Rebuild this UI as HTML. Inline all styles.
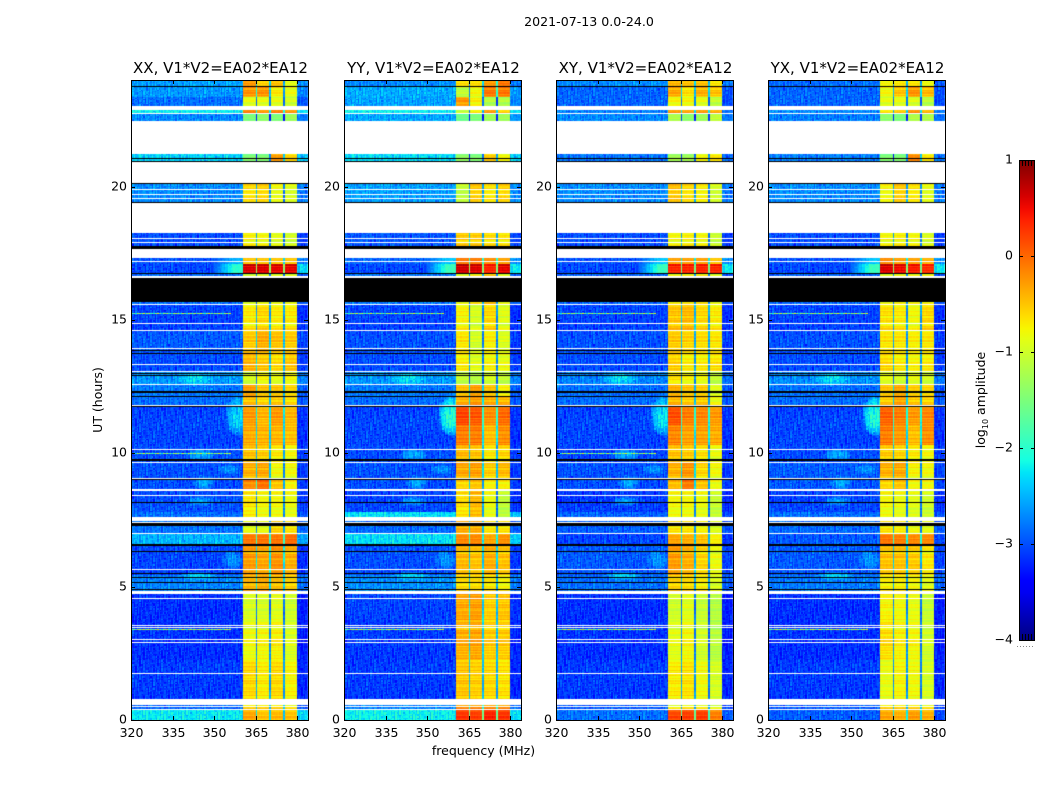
<!DOCTYPE html>
<html lang="en">
<head>
<meta charset="utf-8">
<title>2021-07-13 spectrogram</title>
<style>
html,body{margin:0;padding:0;background:#fff;}
#figure{position:relative;width:1050px;height:800px;overflow:hidden;background:#fff;}
canvas{position:absolute;top:80px;display:block;}
svg{position:absolute;left:0;top:0;}
text{font-family:"DejaVu Sans","Liberation Sans",sans-serif;fill:#000;}
</style>
</head>
<body>
<div id="figure">
<canvas id="heat-XX" width="178" height="640" style="left:131px"></canvas>
<canvas id="heat-YY" width="177" height="640" style="left:344px"></canvas>
<canvas id="heat-XY" width="178" height="640" style="left:556px"></canvas>
<canvas id="heat-YX" width="178" height="640" style="left:768px"></canvas>
<svg id="overlay" width="1050" height="800" viewBox="0 0 1050 800">
<defs>
<linearGradient id="jet-gradient" x1="0" y1="1" x2="0" y2="0"></linearGradient>
</defs>
<text x="589" y="26" text-anchor="middle" font-size="12.6">2021-07-13 0.0-24.0</text>
<text x="483.5" y="755" text-anchor="middle" font-size="12.5">frequency (MHz)</text>
<text transform="translate(102,400) rotate(-90)" text-anchor="middle" font-size="12.5">UT (hours)</text>
<text transform="translate(985,400) rotate(-90)" text-anchor="middle" font-size="12.5">log<tspan font-size="8" dy="3">10</tspan><tspan dy="-3"> amplitude</tspan></text>
</svg>
</div>
<script>
// ---------- data ----------
const panelNames = ['XX', 'YY', 'XY', 'YX'];
const freqTicks = [320, 335, 350, 365, 380];
const hourTicks = [0, 5, 10, 15, 20];
const cbarTicks = [1, 0, -1, -2, -3, -4];

// time blocks, top of plot downward (UT hours)
const blockEdges = [24, 23.74, 23.36, 23.03, 22.76, 21.23, 20.14, 18.3, 17.36, 17.1, 16.76, 15.56, 14.63, 13.8, 13.05, 12.56, 12.11, 11.78, 11.06, 10.31, 9.68, 9, 8.63, 7.8, 7.48, 6.98, 6.53, 5.44, 4.8, 3.75, 2.25, 0.79, 0.41, 0];

// log10 amplitude outside the receiver band, one per block
const offXX = [-2.6,-2.65,-2.85,-2.2,-2.7,-2.35,-2.7,-3,-3,-3.05,-2.85,-3.05,-2.95,-3,-2.65,-2.8,-2.85,-3.05,-3.05,-3,-3,-3,-3,-2.85,-2.8,-2.5,-3.05,-2.75,-3.15,-3.15,-3.1,-2.9,-2.25];
const offYY = [-2.7,-2.55,-2.6,-2.2,-2.55,-2.3,-2.6,-2.95,-2.9,-3.05,-2.8,-3.05,-3,-3,-2.65,-2.8,-2.85,-3.05,-3.05,-3,-3,-3,-3.05,-2.3,-2.85,-2.3,-3,-2.7,-3.05,-3.1,-3.1,-2.75,-2.2];
const offXY = [-2.7,-2.9,-2.9,-2.75,-2.7,-2.8,-2.7,-3,-3,-3.05,-2.9,-3.05,-3,-3,-2.75,-2.85,-2.85,-3.05,-3.05,-3.05,-3,-3,-3.1,-2.9,-2.9,-3.05,-2.95,-2.85,-3.15,-3.15,-3.1,-2.95,-2.85];
const offYX = [-2.85,-2.9,-2.9,-2.7,-2.75,-2.75,-2.7,-3,-3,-3.05,-2.9,-3.05,-3,-3,-2.7,-2.85,-2.85,-3.05,-3.05,-3,-2.95,-2.95,-3.05,-2.85,-2.85,-2.95,-2.95,-2.8,-3.15,-3.15,-3.1,-2.95,-2.95];

// log10 amplitude just below the band edge, one per block (-4 = no shoulder)
const shoulderXX = [-4,-4,-4,-4,-4,-4,-4,-4,-2.5,-2.0,-4,-4,-4,-4,-4,-4,-4,-4,-4,-4,-4,-4,-4,-4,-4,-4,-4,-4,-4,-4,-4,-4,-4];
const shoulderYY = [-4,-4,-4,-4,-4,-4,-4,-4,-2.4,-1.9,-4,-4,-4,-4,-4,-4,-4,-4,-4,-4,-4,-4,-4,-4,-4,-4,-4,-4,-4,-4,-4,-4,-4];
const shoulderXY = [-4,-4,-4,-4,-4,-4,-4,-4,-2.4,-1.9,-4,-4,-4,-4,-4,-4,-4,-4,-4,-4,-4,-4,-4,-4,-4,-4,-4,-4,-4,-4,-4,-4,-4];
const shoulderYX = [-4,-4,-4,-4,-4,-4,-4,-4,-2.4,-1.9,-4,-4,-4,-4,-4,-4,-4,-4,-4,-4,-4,-4,-4,-4,-4,-4,-4,-4,-4,-4,-4,-4,-4];

// log10 amplitude of the four sub-bands, one row per block
const bandXX = [[-.3,-.6,-.5,-.9],[-.25,-.25,-.7,-.85],[-.9,-.9,-.9,-1],[-.15,-.3,-.15,-.3],[-1.5,-1.4,-1.5,-1.3],[-1.5,-1.5,-.3,-.6],[-.65,-.6,-.85,-.95],[-.75,-.8,-.9,-1],[-.5,-.5,-.5,-.5],[.6,.6,.55,.55],[-1,-.9,-.9,-.9],[-.7,-.6,-.7,-.7],[-.55,-.4,-.5,-.55],[-.4,-.5,-.6,-.5],[-1,-.8,-.9,-.8],[-.3,-.5,-.5,-.6],[-.45,-.55,-.5,-.6],[-.3,-.45,-.3,-.45],[-.35,-.4,-.4,-.45],[-.5,-.55,-.7,-.8],[-.4,-.35,-.8,-.8],[-.2,-.05,-.5,-.75],[-.7,-.8,-.8,-.85],[-.7,-.8,-.8,-.85],[-.9,-.9,-.6,-.7],[-.1,-.1,-.1,-.05],[-.3,-.35,-.25,-.4],[-.4,-.35,-.45,-.55],[-.95,-.95,-.9,-1],[-.85,-.8,-.75,-.95],[-.6,-.7,-.6,-.75],[-.6,-.6,-.6,-.7],[-.35,-.5,-.45,-.5]];
const bandYY = [[-.65,-.65,-.3,-.1],[-1.1,-.8,-.1,-.1],[-.3,-.75,-1.2,-1.2],[-1.1,-.75,-.3,-.6],[-1.6,-1.5,-1.3,-1.3],[-1.4,-1.5,-.55,-.8],[-1.1,-.55,-.7,-.6],[-.55,-.55,-.65,-.7],[-.1,-.1,-.2,-.3],[.65,.6,.35,.55],[-.9,-.7,-.5,-.9],[-.75,-.95,-.6,-.9],[-.7,-1,-.75,-.95],[-.7,-.9,-.75,-.85],[-1.1,-1.2,-1,-1.1],[-.5,-.3,-.5,-.75],[-.35,-.25,-.35,-.4],[.15,.05,-.25,-.05],[-.1,-.1,-.45,-.2],[-.45,-.5,-.7,-.6],[-.35,-.3,-.55,-.45],[-.6,-.5,-.75,-.75],[-.65,-.45,-.85,-1.1],[-.65,-.45,-.85,-1.1],[-.4,-.4,-.7,-.7],[-.2,-.2,-.35,-.25],[-.45,-.5,-.4,-.5],[-.6,-.6,-.65,-.75],[-.35,-.3,-.55,-.5],[-.4,-.35,-.55,-.55],[-.5,-.55,-.6,-.65],[-.2,-.2,-.2,-.2],[.25,.2,.35,.25]];
const bandXY = [[-.45,-.5,-.5,-.7],[-.35,-.65,-.4,-.5],[-.8,-.8,-.9,-1.1],[-.3,-.35,-.3,-.4],[-1.2,-1.4,-1.3,-1.1],[-1.3,-1.3,-.8,-.7],[-.5,-.65,-.75,-1],[-.8,-.75,-.8,-1.05],[-.3,-.3,-.3,-.5],[.35,.35,.35,.35],[-.8,-.75,-.7,-.9],[-.5,-.45,-.6,-.7],[-.55,-.6,-.65,-.7],[-.55,-.7,-.7,-.65],[-.7,-.8,-.85,-1.1],[-.4,-.5,-.55,-.9],[-.4,-.5,-.5,-.8],[.1,-.15,-.2,-.3],[-.15,-.3,-.3,-.35],[-.5,-.55,-.65,-.85],[-.4,-.25,-.6,-.8],[-.45,-.1,-.5,-.85],[-.8,-.8,-.85,-1.05],[-.8,-.8,-.85,-1.05],[-.7,-.7,-.8,-.95],[-.35,-.4,-.5,-.75],[-.3,-.4,-.6,-.85],[-.55,-.6,-.7,-.9],[-1,-.9,-1.05,-1.15],[-.9,-.8,-1,-1.15],[-.7,-.65,-.8,-.95],[-.8,-.7,-.75,-.9],[.15,.2,.2,-.15]];
const bandYX = [[-.8,-.7,-.7,-.85],[-.8,-.5,-.25,-.45],[-.9,-.9,-.95,-1.15],[-.7,-.55,-.25,-.45],[-1.4,-1.5,-1.2,-1.2],[-1.5,-1.5,-.2,-.7],[-.8,-.55,-.7,-.9],[-.8,-.75,-.8,-.95],[-.2,-.3,-.3,-.4],[.6,.5,.4,.3],[-.9,-.8,-.8,-.8],[-.65,-.7,-.8,-.6],[-.7,-.7,-.75,-.7],[-.6,-.7,-.75,-.7],[-.9,-1,-.9,-1],[-.5,-.35,-.55,-.6],[-.5,-.3,-.5,-.55],[0,-.15,-.3,-.2],[-.1,-.25,-.45,-.2],[-.55,-.6,-.7,-.8],[-.4,-.35,-.75,-.8],[-.6,-.5,-.8,-.8],[-.8,-.85,-.9,-1],[-.8,-.85,-.9,-1],[-.7,-.75,-.85,-.9],[-.1,-.15,-.2,-.2],[-.5,-.5,-.55,-.7],[-.7,-.7,-.75,-.85],[-.75,-.8,-.85,-1.05],[-.65,-.75,-.8,-1],[-.85,-.75,-.8,-.95],[-.6,-.6,-.6,-.7],[-.35,-.4,-.3,-.4]];

// flagged time ranges [from hour, to hour]: white = no data, black = zero amplitude
const whiteFlags = [[23.03,22.89],[22.76,22.73],[22.48,22.44],[22.43,21.23],[20.93,20.14],[19.91,19.88],[19.74,19.71],[19.58,19.54],[19.39,18.28],[18.08,18.04],[17.93,17.87],[17.66,17.34],[17.22,17.18],[16.66,16.59],[15.6,15.55],[14.9,14.85],[14.63,14.59],[13.95,13.91],[13.35,13.31],[13.09,13.05],[12.6,12.56],[11.81,11.78],[10.16,10.13],[9.68,9.64],[9.08,9.04],[8.66,8.59],[8.44,8.4],[7.63,7.48],[7.44,7.41],[7.01,6.98],[5.66,5.63],[4.84,4.73],[4.58,4.54],[3.56,3.53],[3.49,3.45],[3.04,3],[2.93,2.89],[1.76,1.73],[.79,.56],[.53,.49],[.41,.38]];
const blackFlags = [[23.78,23.74],[21.08,21.04],[20.96,20.93],[20.14,20.1],[19.43,19.39],[17.78,17.66],[16.78,16.74],[16.59,15.69],[13.86,13.82],[13.78,13.74],[13.01,12.98],[12.94,12.9],[12.32,12.28],[12.15,12.11],[11.76,11.72],[9.77,9.73],[9.04,9],[8.18,8.14],[7.37,7.26],[6.6,6.53],[6.34,6.3],[5.51,5.48],[5.36,5.33],[5.19,5.16],[4.91,4.88]];

// narrow-band interference rows
const rfiHours = [15.26, 10.01, 3.41];
const rfiPanels = [['XX','YY','XY','YX'], ['XX','XY'], ['XX','YY','XY','YX']];
const rfiLevel = [-1.5, -1.5, -1.3];

// soft brighter patches in the off-band noise (centre MHz, centre hour, half sizes, peak level)
const patchMHz = [343, 345, 346, 355, 345, 344, 356.5];
const patchHour = [12.8, 9.95, 8.9, 9.4, 8.2, 5.4, 6.0];
const patchHalfMHz = [7, 5, 4, 4, 5, 7, 4];
const patchHalfHour = [0.28, 0.25, 0.3, 0.2, 0.2, 0.16, 0.4];
const patchLevel = [-2.3, -2.5, -2.5, -2.6, -2.6, -2.3, -2.6];

// soft glow beside the band near 11 UT, peak level per panel
const glowMHz = 358.5, glowHour = 11.4, glowHalfMHz = 4.5, glowHalfHour = 0.75;
const glowLevel = {XX:-2.35, YY:-2.0, XY:-2.25, YX:-2.05};

// fine-grain texture: hand-typed offsets, not measured cell by cell
const grainA = [.6,-.4,.1,-.8,.9,-.2,.4,-.6,.2,.7,-.9,.3,-.1,.8,-.5,.0,-.7,.5,-.3,.9,-.6,.2,-.9,.4,.1,-.2,.7,-.5,.3,-.8,.6,-.1,.5,-.4,.8,-.7,.0];
const grainB = [-.3,.7,-.9,.2,.5,-.6,.1,.8,-.4,-.1,.6,-.8,.3,.9,-.5,.0,-.7,.4,.2,-.2,.7,-.6,.9,-.3,.1,-.9,.5,-.4,.6,.3,-.7];
const streak = [.2,-.5,.7,.1,-.3,.9,-.8,.4,-.1,.6,-.6,.3,-.9,.5,0,.8,-.4,-.7,.2];

// ---------- axes ----------
const panelLeft = {XX:131, YY:344, XY:556, YX:768};
const axisTop = 80, axisHeight = 640, axisWidth = 177;
const freqMin = 320, pxPerMHz = 2.767, channelMHz = 0.5;
const sx = f => (f - freqMin) * pxPerMHz;
const sy = h => axisHeight - h * axisHeight / 24;
const bandsOf = {XX:bandXX, YY:bandYY, XY:bandXY, YX:bandYX};
const offOf = {XX:offXX, YY:offYY, XY:offXY, YX:offYX};
const shoulderOf = {XX:shoulderXX, YY:shoulderYY, XY:shoulderXY, YX:shoulderYX};

const jetRed = [[0,0],[.35,0],[.66,1],[.89,1],[1,.5]];
const jetGreen = [[0,0],[.125,0],[.375,1],[.64,1],[.91,0],[1,0]];
const jetBlue = [[0,.5],[.11,1],[.34,1],[.65,0],[1,0]];
function knot(k, v){
  for (let i = 1; i < k.length; i++) {
    if (v <= k[i][0]) return k[i-1][1] + (k[i][1]-k[i-1][1]) * (v-k[i-1][0]) / (k[i][0]-k[i-1][0]);
  }
  return k[k.length-1][1];
}
function jet(v){
  return 'rgb(' + Math.round(255*knot(jetRed,v)) + ',' + Math.round(255*knot(jetGreen,v)) + ',' + Math.round(255*knot(jetBlue,v)) + ')';
}
const lut = [];
for (let i = 0; i < 256; i++) lut.push(jet(i/255));
const colorOf = level => lut[Math.max(0, Math.min(255, Math.round((level + 4) / 5 * 255)))];

function blockAt(hour){
  for (let b = 0; b < blockEdges.length - 1; b++) {
    if (hour >= blockEdges[b+1]) return b;
  }
  return blockEdges.length - 2;
}
function patchLift(name, base, mhz, hour){
  let out = base;
  for (let i = 0; i < patchMHz.length; i++) {
    const dx = (mhz - patchMHz[i]) / patchHalfMHz[i];
    const dy = (hour - patchHour[i]) / patchHalfHour[i];
    const d = dx*dx + dy*dy;
    if (d < 1) out = Math.max(out, base + (patchLevel[i] - base) * (1 - d));
  }
  const gx = (mhz - glowMHz) / glowHalfMHz;
  const gy = (hour - glowHour) / glowHalfHour;
  const gd = gx*gx + gy*gy;
  if (gd < 1) out = Math.max(out, base + (glowLevel[name] - base) * Math.sqrt(1 - gd));
  return out;
}
function cellLevel(name, b, mhz, hour, ch, r){
  const g = (grainA[(ch + r*11) % 37] + grainB[(ch*5 + r*3) % 31]) / 2;
  const s = streak[r % streak.length];
  const off = offOf[name][b];
  const sh = shoulderOf[name][b];
  if (mhz >= 360.5 && mhz < 380) {
    const lv = bandsOf[name][b];
    if (mhz === 365 || mhz === 370 || mhz === 375) {
      const idx = (mhz - 365) / 5;
      return (lv[idx] + lv[idx+1]) / 2 - 1.9 + g * 0.2;
    }
    const idx = Math.min(3, Math.floor((mhz - 360.5) / 5));
    return lv[idx] + s * 0.17 + g * 0.07;
  }
  if (mhz >= 380) return Math.max(off - 0.1, sh - 0.3) + g * 0.35;
  if (sh > off && mhz >= 349) return off + (sh - off) * Math.min(1, (mhz - 349) / 8) + g * 0.2;
  return patchLift(name, off, mhz, hour) + g * 0.42;
}
function drawPanel(name){
  const ctx = document.getElementById('heat-' + name).getContext('2d');
  const channels = (384 - freqMin) / channelMHz;
  ctx.fillStyle = '#fff';
  ctx.fillRect(0, 0, 178, axisHeight);
  for (let y = 0; y < axisHeight; y++) {
    const hour = (axisHeight - y - 0.5) * 24 / axisHeight;
    const b = blockAt(hour);
    const r = Math.floor(y / 1.333);
    for (let ch = 0; ch < channels; ch++) {
      const mhz = freqMin + ch * channelMHz;
      const x0 = Math.round(sx(mhz));
      const x1 = Math.round(sx(mhz + channelMHz));
      ctx.fillStyle = colorOf(cellLevel(name, b, mhz, hour, ch, r));
      ctx.fillRect(x0, y, x1 - x0, 1);
    }
  }
  rfiHours.forEach((h, i) => {
    if (rfiPanels[i].indexOf(name) < 0) return;
    const y = Math.round(sy(h));
    for (let ch = 0; ch < 72; ch++) {
      const mhz = freqMin + ch * channelMHz;
      ctx.fillStyle = colorOf(rfiLevel[i] + grainA[ch % 37] * 0.9);
      ctx.fillRect(Math.round(sx(mhz)), y, 2, 1);
    }
  });
  const flag = (list, color) => list.forEach(f => {
    const y0 = Math.round(sy(f[0]));
    const y1 = Math.max(y0 + 1, Math.round(sy(f[1])));
    ctx.fillStyle = color;
    ctx.fillRect(0, y0, 178, y1 - y0);
  });
  flag(whiteFlags, '#fff');
  flag(blackFlags, '#000');
}
panelNames.forEach(drawPanel);

// ---------- svg furniture ----------
const svg = document.getElementById('overlay');
const NS = 'http://www.w3.org/2000/svg';
function line(x1, y1, x2, y2, parent){
  const el = document.createElementNS(NS, 'line');
  el.setAttribute('x1', x1);
  el.setAttribute('y1', y1);
  el.setAttribute('x2', x2);
  el.setAttribute('y2', y2);
  el.setAttribute('stroke', '#000');
  el.setAttribute('stroke-width', '1');
  parent.appendChild(el);
  return el;
}
function label(str, x, y, anchor, size, parent){
  const el = document.createElementNS(NS, 'text');
  el.setAttribute('x', x);
  el.setAttribute('y', y);
  el.setAttribute('text-anchor', anchor);
  el.setAttribute('font-size', size);
  el.textContent = str;
  parent.appendChild(el);
  return el;
}
panelNames.forEach(name => {
  const left = panelLeft[name];
  const g = document.createElementNS(NS, 'g');
  
  
  svg.appendChild(g);

  const frame = document.createElementNS(NS, 'rect');
  frame.setAttribute('x', left + 0.5);
  frame.setAttribute('y', axisTop + 0.5);
  frame.setAttribute('width', axisWidth);
  frame.setAttribute('height', axisHeight);
  frame.setAttribute('fill', 'none');
  frame.setAttribute('stroke', '#000');
  
  
  g.appendChild(frame);

  const title = label(name + ', V1*V2=EA02*EA12', left + axisWidth / 2 + 1, 73, 'middle', 15, g);
  
  

  freqTicks.forEach(f => {
    const x = Math.round(left + sx(f)) + 0.5;
    const t1 = line(x, axisTop + axisHeight, x, axisTop + axisHeight - 4, g);
    
    
    const t2 = line(x, axisTop, x, axisTop + 4, g);
    
    
    const tl = label(String(f), x, 737, 'middle', 12.5, g);
    
    
  });
  hourTicks.forEach(h => {
    const y = Math.round(axisTop + sy(h)) + 0.5;
    const t1 = line(left, y, left + 4, y, g);
    
    
    const t2 = line(left + axisWidth, y, left + axisWidth - 4, y, g);
    
    
    const tl = label(String(h), left - 4, y + 3, 'end', 12.5, g);
    
    
  });
});

// ---------- colour bar ----------
const cbarX = 1019, cbarW = 16, cbarTop = 160, cbarH = 480;
const cbarY = v => cbarTop + (1 - v) * cbarH / 5;
const grad = document.getElementById('jet-gradient');
for (let i = 0; i <= 40; i++) {
  const stop = document.createElementNS(NS, 'stop');
  stop.setAttribute('offset', i / 40);
  stop.setAttribute('stop-color', jet(i / 40));
  grad.appendChild(stop);
}
const cbar = document.createElementNS(NS, 'g');


svg.appendChild(cbar);
const ramp = document.createElementNS(NS, 'rect');
ramp.setAttribute('x', cbarX + 0.5);
ramp.setAttribute('y', cbarTop + 0.5);
ramp.setAttribute('width', cbarW - 1);
ramp.setAttribute('height', cbarH);
ramp.setAttribute('fill', 'url(#jet-gradient)');
ramp.setAttribute('stroke', '#000');


cbar.appendChild(ramp);
cbarTicks.forEach(v => {
  const y = Math.round(cbarY(v)) + 0.5;
  const t1 = line(cbarX, y, cbarX + 4, y, cbar);
  
  
  const t2 = line(cbarX + cbarW, y, cbarX + cbarW - 4, y, cbar);
  
  
  const tl = label(String(v).replace('-', '\u2212'), 1013, y + 3, 'end', 12.5, cbar);
  
  
});
[1022.5, 1025.5, 1028.5, 1031.5].forEach(x => {
  const m1 = line(x, cbarTop, x, cbarTop + 6, cbar);
  
  
  const m2 = line(x, cbarTop + cbarH, x, cbarTop + cbarH - 6, cbar);
  
  
});
const dots = line(1017, 646.5, 1035, 646.5, cbar);
dots.setAttribute('stroke', '#888');
dots.setAttribute('stroke-dasharray', '1 2');


</script>
</body>
</html>
